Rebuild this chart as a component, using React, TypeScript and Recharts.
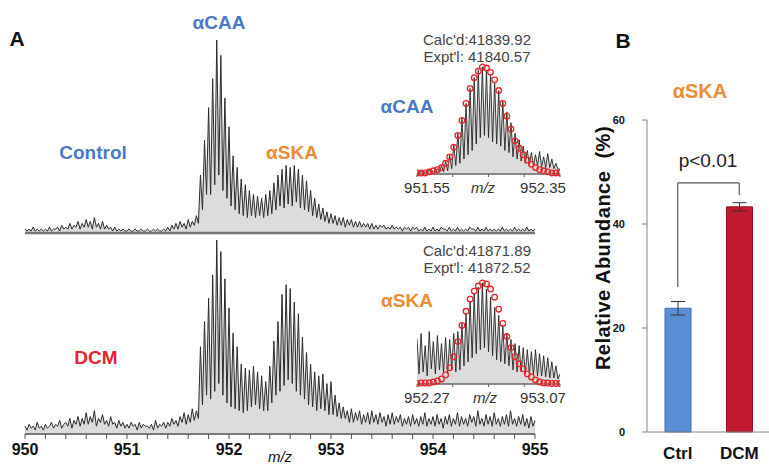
import React from 'react';
import {
  Area,
  Bar,
  BarChart,
  Cell,
  ComposedChart,
  ErrorBar,
  Line,
  ReferenceLine,
  Scatter,
  XAxis,
  YAxis,
} from 'recharts';

// ---- panel A: full spectra, 950.00 .. 955.00 m/z, one point every 0.02 ----
const MZ_START = 950;
const MZ_STEP = 0.02;
const MZ_TICKS = [
  950, 950.2, 950.4, 950.6, 950.8, 951, 951.2, 951.4, 951.6, 951.8, 952, 952.2, 952.4,
  952.6, 952.8, 953, 953.2, 953.4, 953.6, 953.8, 954, 954.2, 954.4, 954.6, 954.8, 955,
];

const CONTROL_SPECTRUM = [
  2, 1, 2, 1, 3, 1, 2, 1, 2, 1,
  2, 1, 3, 1, 2, 2, 3, 1, 4, 2,
  3, 2, 5, 2, 4, 3, 6, 2, 5, 3,
  7, 3, 6, 2, 8, 3, 5, 2, 6, 2,
  4, 2, 3, 1, 3, 1, 2, 1, 2, 1,
  1, 2, 1, 1, 2, 1, 1, 2, 1, 1,
  2, 1, 1, 2, 1, 2, 1, 1, 2, 1,
  3, 1, 4, 2, 5, 2, 6, 3, 5, 2,
  7, 3, 6, 4, 9, 5, 30, 12, 48, 20,
  65, 20, 80, 25, 100, 30, 92, 22, 70, 18,
  55, 14, 40, 12, 34, 10, 28, 9, 25, 8,
  22, 9, 20, 8, 19, 9, 18, 8, 20, 9,
  22, 10, 26, 12, 30, 14, 33, 13, 35, 15,
  34, 14, 35, 16, 33, 13, 30, 12, 27, 11,
  22, 9, 18, 8, 15, 7, 13, 6, 11, 5,
  10, 5, 9, 4, 8, 4, 8, 3, 7, 4,
  7, 3, 6, 3, 6, 3, 5, 3, 5, 2,
  5, 2, 4, 2, 4, 3, 4, 2, 3, 2,
  4, 2, 3, 2, 3, 1, 3, 2, 3, 1,
  3, 2, 3, 1, 2, 1, 3, 1, 2, 1,
  3, 1, 2, 1, 3, 2, 2, 1, 3, 1,
  2, 1, 3, 1, 2, 1, 2, 1, 3, 2,
  2, 1, 3, 1, 2, 1, 3, 1, 2, 1,
  2, 1, 2, 1, 3, 1, 2, 1, 2, 1,
  3, 1, 2, 1, 2, 1, 3, 1, 2, 1, 2,
];

const DCM_SPECTRUM = [
  4, 2, 5, 3, 4, 2, 6, 3, 4, 2,
  5, 3, 4, 6, 3, 5, 4, 7, 3, 5,
  6, 4, 8, 3, 7, 5, 9, 4, 8, 5,
  11, 5, 9, 6, 12, 4, 8, 6, 10, 5,
  7, 4, 9, 5, 6, 3, 7, 4, 6, 3,
  5, 3, 6, 4, 5, 2, 6, 3, 5, 4,
  4, 3, 5, 2, 7, 3, 5, 4, 6, 3,
  6, 4, 8, 5, 7, 4, 9, 6, 11, 5,
  10, 6, 13, 7, 12, 8, 45, 15, 58, 20,
  70, 18, 82, 22, 100, 26, 94, 20, 80, 16,
  65, 14, 52, 13, 45, 12, 36, 11, 34, 12,
  33, 14, 35, 15, 32, 13, 30, 12, 27, 12,
  35, 16, 48, 20, 58, 22, 72, 25, 77, 28,
  75, 26, 68, 22, 62, 20, 50, 18, 42, 15,
  36, 14, 32, 12, 30, 13, 31, 12, 26, 10,
  27, 10, 20, 9, 16, 8, 14, 8, 12, 6,
  13, 6, 11, 7, 12, 5, 10, 6, 11, 5,
  12, 6, 10, 5, 11, 6, 9, 4, 10, 5,
  11, 5, 9, 6, 10, 4, 8, 5, 9, 4,
  10, 5, 8, 4, 9, 5, 11, 4, 8, 5,
  9, 4, 10, 5, 8, 3, 9, 5, 10, 4,
  8, 5, 11, 4, 9, 5, 8, 4, 10, 6,
  9, 4, 12, 5, 8, 4, 10, 5, 9, 4,
  11, 5, 8, 4, 9, 5, 10, 4, 12, 5,
  8, 4, 9, 5, 10, 4, 8, 3, 9, 4, 7,
];

// ---- insets: zoom on one charge state, 0.8 m/z wide ----
const CAA_INSET_RANGE = [951.55, 952.35];
const CAA_INSET_TICKS = [951.55, 951.75, 951.95, 952.15, 952.35];
const SKA_INSET_RANGE = [952.27, 953.07];
const SKA_INSET_TICKS = [952.27, 952.47, 952.67, 952.87, 953.07];

// experimental, 71 points across the range
const CAA_INSET_EXPT = [
  2, 1, 3, 1, 2, 1, 4, 1, 3, 1, 5, 2, 8, 2, 12, 3, 18, 5, 27, 8, 38, 10, 52, 14, 66, 18,
  80, 22, 90, 28, 97, 34, 100, 36, 97, 34, 93, 30, 86, 28, 78, 26, 68, 22, 58, 20, 48, 16,
  38, 14, 32, 12, 26, 10, 22, 9, 20, 8, 18, 8, 21, 7, 16, 6, 19, 6, 14, 5, 10, 4, 5,
];
const SKA_INSET_EXPT = [
  45, 10, 50, 12, 38, 8, 52, 15, 42, 10, 48, 14, 40, 12, 46, 10, 44, 15, 50, 12, 52, 14,
  60, 18, 70, 22, 82, 26, 90, 30, 96, 34, 100, 36, 94, 32, 86, 28, 76, 24, 68, 22, 58, 20,
  50, 18, 44, 14, 40, 12, 38, 12, 36, 10, 34, 10, 32, 9, 34, 8, 30, 8, 28, 7, 26, 6, 22, 6,
  18, 5, 10,
];

// calculated isotope distribution, 36 points across the range
const CAA_INSET_CALC = [
  1, 1, 1, 2, 3, 4, 6, 10, 16, 25, 36, 50, 66, 80, 90, 96, 100, 99, 95, 88, 78, 66, 54, 42,
  31, 24, 18, 13, 9, 6, 4, 3, 2, 1, 1, 1,
];
const SKA_INSET_CALC = [
  0.5, 1, 1, 1, 2, 3, 5, 9, 16, 27, 42, 58, 72, 84, 92, 97, 100, 99, 94, 86, 74, 60, 47, 36,
  27, 20, 15, 10, 7, 4, 2, 1, 1, 0.5, 0.5, 0.5,
];

// ---- panel B ----
const GROUPS = ['Ctrl', 'DCM'];
const ABUNDANCE = [23.8, 43.3];
const ABUNDANCE_ERR = [1.3, 0.8];
const ABUNDANCE_TICKS = [0, 20, 40, 60];
const SIG_BRACKET = { ctrlFoot: 27.9, top: 47.9, dcmFoot: 45.6 };

const BLUE = '#4A78C6';
const ORANGE = '#EE8B35';
const RED = '#E8222F';
const BAR_FILL = ['#5A8ED4', '#C21A30'];
const BAR_EDGE = ['#3E6DAE', '#8E1222'];
const FONT = '"Liberation Sans", Arial, Helvetica, sans-serif';

function Txt({
  x,
  y,
  size,
  color = '#111',
  bold = false,
  italic = false,
  rotate = 0,
  spacing = 0,
  children,
}: {
  x: number;
  y: number;
  size: number;
  color?: string;
  bold?: boolean;
  italic?: boolean;
  rotate?: number;
  spacing?: number;
  children: React.ReactNode;
}) {
  return (
    <div
      style={{
        position: 'absolute',
        left: x,
        top: y,
        transform: `translate(-50%, -50%) rotate(${rotate}deg)`,
        fontSize: size,
        color,
        fontWeight: bold ? 700 : 400,
        fontStyle: italic ? 'italic' : 'normal',
        letterSpacing: spacing,
        whiteSpace: 'pre',
        lineHeight: 1,
      }}
    >
      {children}
    </div>
  );
}

const intLabel = (v: number) => (Math.abs(v - Math.round(v)) < 1e-6 ? String(Math.round(v)) : '');

function Spectrum({
  values,
  top,
  height,
  withTicks,
}: {
  values: number[];
  top: number;
  height: number;
  withTicks: boolean;
}) {
  const data = values.map((v, i) => ({ mz: MZ_START + i * MZ_STEP, v }));
  return (
    <div style={{ position: 'absolute', left: 5, top }}>
      <ComposedChart width={550} height={height} data={data} margin={{ top: 5, right: 20, bottom: 0, left: 20 }}>
        {withTicks ? (
          <XAxis
            dataKey="mz"
            type="number"
            domain={[950, 955]}
            ticks={MZ_TICKS}
            tickFormatter={intLabel}
            interval={0}
            height={30}
            axisLine={{ stroke: '#555', strokeWidth: 1.5 }}
            tickLine={{ stroke: '#555' }}
            tickSize={5}
            tickMargin={5}
            tick={{ fill: '#111', fontSize: 16, fontWeight: 700 }}
          />
        ) : (
          <XAxis
            dataKey="mz"
            type="number"
            domain={[950, 955]}
            height={4}
            tick={false}
            tickLine={false}
            axisLine={{ stroke: '#777', strokeWidth: 2.5 }}
          />
        )}
        <YAxis hide domain={[0, 100]} />
        <Area
          type="linear"
          dataKey="v"
          stroke="none"
          fill="#8a8a8a"
          fillOpacity={0.3}
          isAnimationActive={false}
        />
        <Line
          type="linear"
          dataKey="v"
          stroke="#2a2a2a"
          strokeWidth={1}
          dot={false}
          isAnimationActive={false}
        />
      </ComposedChart>
    </div>
  );
}

function Inset({
  range,
  ticks,
  expt,
  calc,
  top,
  plotHeight,
}: {
  range: number[];
  ticks: number[];
  expt: number[];
  calc: number[];
  top: number;
  plotHeight: number;
}) {
  const span = range[1] - range[0];
  const exptData = expt.map((v, i) => ({ mz: range[0] + (i * span) / (expt.length - 1), v }));
  const calcData = calc.map((v, i) => ({ mz: range[0] + (i * span) / (calc.length - 1), v }));
  const labelShift = [10, 0, 0, 0, -17];
  const InsetTick = (p: any) => {
    const i = p.index;
    if (i !== 0 && i !== ticks.length - 1) return null;
    return (
      <text x={p.x + labelShift[i]} y={p.y} dy="0.71em" textAnchor="middle" fill="#333" fontSize={15} fontFamily={FONT}>
        {ticks[i].toFixed(2)}
      </text>
    );
  };
  return (
    <div style={{ position: 'absolute', left: 392, top }}>
      <ComposedChart width={193} height={5 + plotHeight + 24} margin={{ top: 5, right: 25, bottom: 0, left: 25 }}>
        <XAxis
          dataKey="mz"
          type="number"
          domain={range}
          ticks={ticks}
          interval={0}
          height={24}
          axisLine={{ stroke: '#666', strokeWidth: 1.5 }}
          tickLine={{ stroke: '#666' }}
          tickSize={3}
          tickMargin={5}
          tick={InsetTick}
          allowDataOverflow
        />
        <YAxis hide domain={[0, 100]} />
        <Area
          data={exptData}
          type="linear"
          dataKey="v"
          stroke="none"
          fill="#8a8a8a"
          fillOpacity={0.3}
          isAnimationActive={false}
        />
        <Line
          data={exptData}
          type="linear"
          dataKey="v"
          stroke="#222"
          strokeWidth={0.9}
          dot={false}
          isAnimationActive={false}
        />
        <Scatter
          data={calcData}
          dataKey="v"
          isAnimationActive={false}
          shape={(s: any) => (
            <circle cx={s.cx} cy={s.cy} r={2.8} fill="none" stroke="#E8262A" strokeWidth={1.3} />
          )}
        />
      </ComposedChart>
    </div>
  );
}

function AbundanceBars() {
  const data = GROUPS.map((name, i) => ({ name, value: ABUNDANCE[i], err: ABUNDANCE_ERR[i] }));
  const bracket = { stroke: '#555', strokeWidth: 1.2 };
  return (
    <div style={{ position: 'absolute', left: 560, top: 80 }}>
      <BarChart width={210} height={382} data={data} margin={{ top: 40, right: 0, bottom: 0, left: 0 }}>
        <XAxis
          dataKey="name"
          height={30}
          axisLine={{ stroke: '#888' }}
          tickLine={false}
          tickSize={6}
          tickMargin={9}
          tick={{ fill: '#111', fontSize: 17, fontWeight: 700 }}
        />
        <YAxis
          domain={[0, 60]}
          ticks={ABUNDANCE_TICKS}
          width={87}
          axisLine={{ stroke: '#888' }}
          tickLine={{ stroke: '#888' }}
          tickSize={5}
          tickMargin={17}
          tick={{ fill: '#111', fontSize: 11, fontWeight: 700 }}
        />
        <Bar dataKey="value" barSize={26} isAnimationActive={false}>
          {data.map((d, i) => (
            <Cell key={d.name} fill={BAR_FILL[i]} stroke={BAR_EDGE[i]} strokeWidth={1} />
          ))}
          <ErrorBar dataKey="err" width={7} stroke="#333" strokeWidth={1} />
        </Bar>
        <ReferenceLine
          segment={[
            { x: 'Ctrl', y: SIG_BRACKET.ctrlFoot },
            { x: 'Ctrl', y: SIG_BRACKET.top },
          ]}
          position="middle"
          {...bracket}
        />
        <ReferenceLine
          segment={[
            { x: 'Ctrl', y: SIG_BRACKET.top },
            { x: 'DCM', y: SIG_BRACKET.top },
          ]}
          position="middle"
          {...bracket}
        />
        <ReferenceLine
          segment={[
            { x: 'DCM', y: SIG_BRACKET.top },
            { x: 'DCM', y: SIG_BRACKET.dcmFoot },
          ]}
          position="middle"
          {...bracket}
        />
      </BarChart>
    </div>
  );
}

export default function App() {
  return (
    <div
      style={{
        position: 'absolute',
        left: 0,
        top: 0,
        width: 769,
        height: 464,
        overflow: 'hidden',
        background: '#fff',
        fontFamily: FONT,
      }}
    >
      <Spectrum values={CONTROL_SPECTRUM} top={35} height={202} withTicks={false} />
      <Spectrum values={DCM_SPECTRUM} top={235} height={229} withTicks />
      <Inset range={CAA_INSET_RANGE} ticks={CAA_INSET_TICKS} expt={CAA_INSET_EXPT} calc={CAA_INSET_CALC} top={62} plotHeight={107} />
      <Inset range={SKA_INSET_RANGE} ticks={SKA_INSET_TICKS} expt={SKA_INSET_EXPT} calc={SKA_INSET_CALC} top={278} plotHeight={101} />
      <AbundanceBars />

      <Txt x={17} y={38} size={21} bold>A</Txt>
      <Txt x={219} y={22} size={19} bold color={BLUE}>αCAA</Txt>
      <Txt x={93} y={152} size={19} bold color={BLUE}>Control</Txt>
      <Txt x={292} y={152} size={19} bold color={ORANGE}>αSKA</Txt>
      <Txt x={96} y={357} size={19} bold color={RED}>DCM</Txt>
      <Txt x={280} y={456} size={15} italic>m/z</Txt>

      <Txt x={477} y={39} size={15} color="#444">Calc'd:41839.92</Txt>
      <Txt x={477} y={56} size={15} color="#444">Expt'l: 41840.57</Txt>
      <Txt x={407} y={106} size={19} bold color={BLUE}>αCAA</Txt>
      <Txt x={483} y={187} size={15} italic color="#333">m/z</Txt>

      <Txt x={477} y={250} size={15} color="#444">Calc'd:41871.89</Txt>
      <Txt x={477} y={267} size={15} color="#444">Expt'l: 41872.52</Txt>
      <Txt x={407} y={300} size={19} bold color={ORANGE}>αSKA</Txt>
      <Txt x={485} y={397} size={15} italic color="#333">m/z</Txt>

      <Txt x={623} y={40} size={21} bold>B</Txt>
      <Txt x={700} y={91} size={20} bold color={ORANGE}>αSKA</Txt>
      <Txt x={708} y={160} size={19} color="#222">p&lt;0.01</Txt>
      <Txt x={603} y={248} size={20} bold rotate={-90} spacing={0.5}>Relative Abundance  (%)</Txt>
    </div>
  );
}
